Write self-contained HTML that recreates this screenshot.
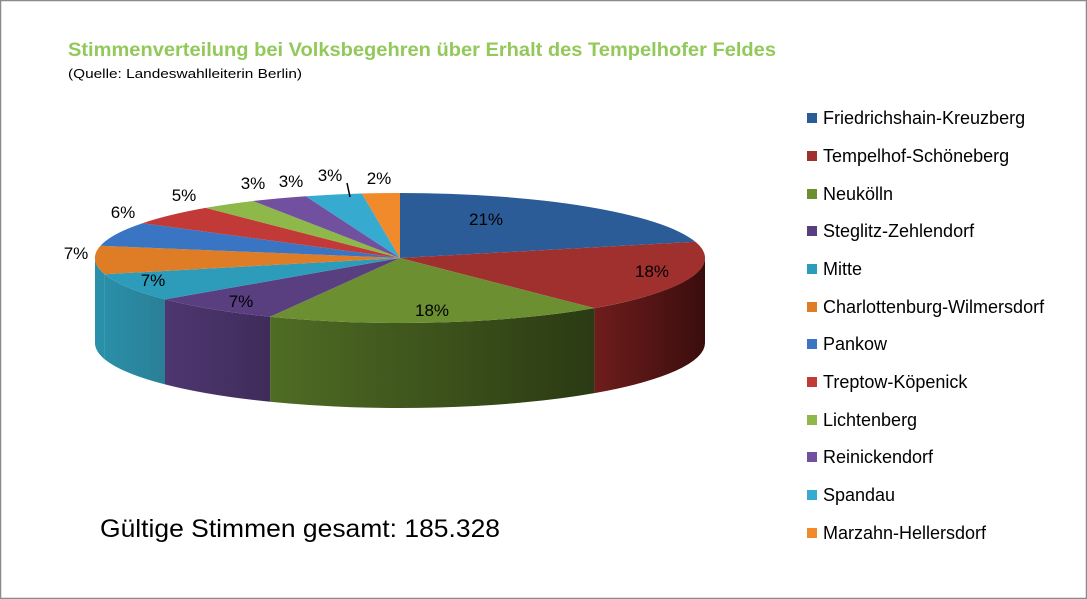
<!DOCTYPE html>
<html><head><meta charset="utf-8"><style>
html,body{margin:0;padding:0;background:#fff}
svg{display:block}
text{font-family:"Liberation Sans",sans-serif}
</style></head><body>
<svg width="1087" height="599" viewBox="0 0 1087 599">
<defs>
<linearGradient id="gR" x1="0" x2="1"><stop offset="0" stop-color="#6e1d1c"/><stop offset="1" stop-color="#3a0d0d"/></linearGradient>
<linearGradient id="gG" x1="0" x2="1"><stop offset="0" stop-color="#4f6c24"/><stop offset="1" stop-color="#2b3a13"/></linearGradient>
<linearGradient id="gP" x1="0" x2="1"><stop offset="0" stop-color="#4e3670"/><stop offset="1" stop-color="#3f2c5a"/></linearGradient>
<linearGradient id="gT" x1="0" x2="1"><stop offset="0" stop-color="#2a8fa8"/><stop offset="1" stop-color="#2a7f96"/></linearGradient>
</defs>
<rect x="0.5" y="0.5" width="1086" height="598" fill="#fff" stroke="#8a8a8a" stroke-width="1.5"/>
<text x="68" y="56" font-size="19" font-weight="bold" fill="#92c95a" textLength="708" lengthAdjust="spacingAndGlyphs">Stimmenverteilung bei Volksbegehren über Erhalt des Tempelhofer Feldes</text>
<text x="68" y="78" font-size="13" fill="#000" textLength="234" lengthAdjust="spacingAndGlyphs">(Quelle: Landeswahlleiterin Berlin)</text>

<path d="M705,258 A305,65 0 0 1 594.4,308.1 L594.4,393.1 A305,65 0 0 0 705,343 Z" fill="url(#gR)"/>
<path d="M594.4,308.1 A305,65 0 0 1 270.1,316.8 L270.1,401.8 A305,65 0 0 0 594.4,393.1 Z" fill="url(#gG)"/>
<path d="M270.1,316.8 A305,65 0 0 1 165,299.4 L165,384.4 A305,65 0 0 0 270.1,401.8 Z" fill="url(#gP)"/>
<path d="M165,299.4 A305,65 0 0 1 104.6,274.2 L104.6,359.2 A305,65 0 0 0 165,384.4 Z" fill="url(#gT)"/>
<path d="M104.6,274.2 A305,65 0 0 1 95,258 L95,343 A305,65 0 0 0 104.6,359.2 Z" fill="#2a8fa8"/>

<path d="M400,258 L400,193 A305,65 0 0 1 695.4,241.8 Z" fill="#2c5c97"/>
<path d="M400,258 L695.4,241.8 A305,65 0 0 1 594.4,308.1 Z" fill="#a0302e"/>
<path d="M400,258 L594.4,308.1 A305,65 0 0 1 270.1,316.8 Z" fill="#6c8f32"/>
<path d="M400,258 L270.1,316.8 A305,65 0 0 1 165,299.4 Z" fill="#5a3f80"/>
<path d="M400,258 L165,299.4 A305,65 0 0 1 104.6,274.2 Z" fill="#2d9cba"/>
<path d="M400,258 L104.6,274.2 A305,65 0 0 1 100.4,245.8 Z" fill="#de7d25"/>
<path d="M400,258 L100.4,245.8 A305,65 0 0 1 142.5,223.2 Z" fill="#3a75c4"/>
<path d="M400,258 L142.5,223.2 A305,65 0 0 1 205.6,207.9 Z" fill="#c23a38"/>
<path d="M400,258 L205.6,207.9 A305,65 0 0 1 253.1,201 Z" fill="#8fb84a"/>
<path d="M400,258 L253.1,201 A305,65 0 0 1 305.8,196.2 Z" fill="#7150a0"/>
<path d="M400,258 L305.8,196.2 A305,65 0 0 1 361.8,193.5 Z" fill="#36abcf"/>
<path d="M400,258 L361.8,193.5 A305,65 0 0 1 400,193 Z" fill="#f08a2a"/>

<g font-size="17" fill="#000" text-anchor="middle">
<text x="486" y="225">21%</text>
<text x="652" y="277">18%</text>
<text x="432" y="316">18%</text>
<text x="241" y="307">7%</text>
<text x="153" y="286">7%</text>
<text x="76" y="259">7%</text>
<text x="123" y="218">6%</text>
<text x="184" y="201">5%</text>
<text x="253" y="189">3%</text>
<text x="291" y="187">3%</text>
<text x="330" y="181">3%</text>
<text x="379" y="184">2%</text>
</g>
<line x1="347" y1="183" x2="350" y2="197" stroke="#000" stroke-width="1.5"/>

<text x="100" y="537" font-size="25" fill="#000" textLength="400" lengthAdjust="spacingAndGlyphs">Gültige Stimmen gesamt: 185.328</text>

<g font-size="18" fill="#000">
<rect x="807" y="113" width="10" height="10" fill="#2c5c97"/><text x="823" y="124">Friedrichshain-Kreuzberg</text>
<rect x="807" y="151" width="10" height="10" fill="#a0302e"/><text x="823" y="162">Tempelhof-Schöneberg</text>
<rect x="807" y="189" width="10" height="10" fill="#6c8f32"/><text x="823" y="200">Neukölln</text>
<rect x="807" y="226" width="10" height="10" fill="#5a3f80"/><text x="823" y="237">Steglitz-Zehlendorf</text>
<rect x="807" y="264" width="10" height="10" fill="#2d9cba"/><text x="823" y="275">Mitte</text>
<rect x="807" y="302" width="10" height="10" fill="#de7d25"/><text x="823" y="313">Charlottenburg-Wilmersdorf</text>
<rect x="807" y="339" width="10" height="10" fill="#3a75c4"/><text x="823" y="350">Pankow</text>
<rect x="807" y="377" width="10" height="10" fill="#c23a38"/><text x="823" y="388">Treptow-Köpenick</text>
<rect x="807" y="415" width="10" height="10" fill="#8fb84a"/><text x="823" y="426">Lichtenberg</text>
<rect x="807" y="452" width="10" height="10" fill="#7150a0"/><text x="823" y="463">Reinickendorf</text>
<rect x="807" y="490" width="10" height="10" fill="#36abcf"/><text x="823" y="501">Spandau</text>
<rect x="807" y="528" width="10" height="10" fill="#f08a2a"/><text x="823" y="539">Marzahn-Hellersdorf</text>
</g>
</svg>
</body></html>
